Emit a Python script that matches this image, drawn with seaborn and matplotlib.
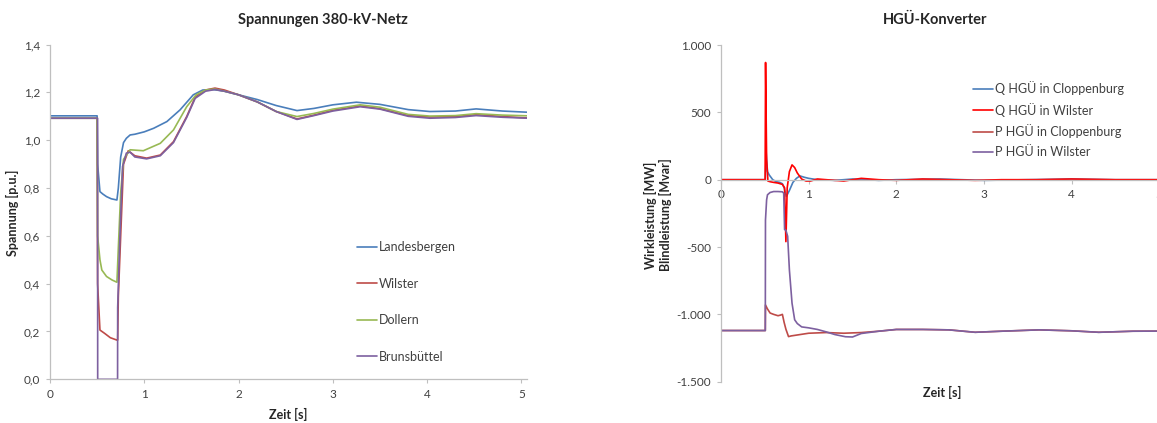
import numpy as np
import pandas as pd
import matplotlib
matplotlib.use("Agg")
import matplotlib.pyplot as plt
from matplotlib.ticker import FuncFormatter
import seaborn as sns

# --- Spannungen 380-kV-Netz (p.u.) ---
t_landesbergen = [0, 0.50, 0.505, 0.53, 0.56, 0.60, 0.65, 0.71, 0.725, 0.75, 0.78, 0.81, 0.85, 0.90, 1.0, 1.1,
                  1.24, 1.38, 1.52, 1.62, 1.73, 1.85, 2.0, 2.2, 2.4, 2.62, 2.8, 3.0, 3.25, 3.5, 3.8, 4.03,
                  4.3, 4.52, 4.8, 5.07]
v_landesbergen = [1.102, 1.102, 0.90, 0.785, 0.775, 0.764, 0.755, 0.75, 0.80, 0.93, 0.99, 1.008, 1.022, 1.025,
                  1.035, 1.05, 1.078, 1.127, 1.19, 1.21, 1.212, 1.205, 1.19, 1.17, 1.145, 1.124, 1.133,
                  1.148, 1.159, 1.15, 1.128, 1.12, 1.122, 1.131, 1.122, 1.117]

t_wilster = [0, 0.50, 0.505, 0.53, 0.58, 0.64, 0.71, 0.718, 0.725, 0.75, 0.78, 0.83, 0.90, 1.025, 1.17,
             1.31, 1.45, 1.54, 1.65, 1.75, 1.85, 2.0, 2.2, 2.4, 2.62, 2.8, 3.0, 3.29, 3.5, 3.8, 4.03,
             4.3, 4.52, 4.8, 5.07]
v_wilster = [1.092, 1.092, 0.40, 0.206, 0.192, 0.174, 0.164, 0.164, 0.346, 0.60, 0.90, 0.956, 0.935, 0.925,
             0.938, 0.994, 1.099, 1.18, 1.21, 1.218, 1.21, 1.19, 1.16, 1.12, 1.089, 1.105, 1.125, 1.143,
             1.132, 1.103, 1.097, 1.099, 1.107, 1.099, 1.093]

t_dollern = [0, 0.50, 0.505, 0.53, 0.55, 0.60, 0.66, 0.71, 0.725, 0.75, 0.78, 0.85, 0.99, 1.17, 1.31,
             1.45, 1.55, 1.65, 1.75, 1.85, 2.0, 2.2, 2.4, 2.62, 2.8, 3.0, 3.29, 3.5, 3.8, 4.03, 4.3,
             4.52, 4.8, 5.07]
v_dollern = [1.092, 1.092, 0.60, 0.50, 0.457, 0.43, 0.415, 0.406, 0.55, 0.78, 0.92, 0.96, 0.956, 0.987, 1.043,
             1.14, 1.19, 1.21, 1.214, 1.205, 1.19, 1.16, 1.12, 1.099, 1.112, 1.13, 1.148, 1.138, 1.108,
             1.101, 1.103, 1.111, 1.105, 1.102]

t_brunsbuettel = [0, 0.505, 0.506, 0.717, 0.718, 0.74, 0.77, 0.81, 0.85, 0.90, 1.025, 1.17, 1.31, 1.45,
                  1.54, 1.65, 1.75, 1.85, 2.0, 2.2, 2.4, 2.62, 2.8, 3.0, 3.29, 3.5, 3.8, 4.03, 4.3, 4.52,
                  4.8, 5.07]
v_brunsbuettel = [1.092, 1.092, 0.0, 0.0, 0.30, 0.58, 0.89, 0.946, 0.95, 0.93, 0.922, 0.935, 0.99, 1.095,
                  1.175, 1.205, 1.212, 1.205, 1.19, 1.16, 1.12, 1.087, 1.103, 1.122, 1.14, 1.13, 1.1,
                  1.092, 1.095, 1.103, 1.096, 1.092]

# --- HGÜ-Konverter (MW / Mvar) ---
t_q_clp = [0, 0.505, 0.515, 0.53, 0.55, 0.59, 0.63, 0.67, 0.70, 0.72, 0.745, 0.78, 0.82, 0.86, 0.90,
           0.95, 1.0, 1.1, 1.3, 1.5, 1.8, 2.0, 2.5, 3.0, 3.5, 4.0, 4.5, 5.1]
v_q_clp = [0, 0, 200, 60, 35, 0, -15, -20, -30, -60, -125, -80, -20, 10, 28, 18, 10, 0, -5, 5, -5, 0,
           5, -5, 0, 5, 0, 0]

t_q_wil = [0, 0.503, 0.508, 0.52, 0.535, 0.56, 0.60, 0.65, 0.70, 0.725, 0.74, 0.755, 0.78, 0.81, 0.84,
           0.87, 0.92, 0.97, 1.02, 1.1, 1.2, 1.4, 1.6, 1.8, 2.0, 2.3, 2.6, 2.9, 3.2, 3.6, 4.0, 4.5, 5.1]
v_q_wil = [0, 0, 870, 150, -10, -15, -20, -25, -35, -60, -460, -60, 60, 110, 90, 50, 5, -10, -10, 5, 0,
           -10, 10, 0, -5, 5, 0, -5, 0, 0, 5, 0, 0]

t_p_clp = [0, 0.505, 0.507, 0.53, 0.56, 0.60, 0.65, 0.68, 0.70, 0.72, 0.74, 0.77, 0.80, 0.90, 1.0, 1.2,
           1.4, 1.6, 1.8, 2.0, 2.3, 2.6, 2.9, 3.2, 3.63, 4.0, 4.31, 4.7, 5.1]
v_p_clp = [-1120, -1120, -930, -960, -990, -1000, -1010, -1005, -1000, -1060, -1110, -1165, -1160, -1150,
           -1140, -1135, -1140, -1135, -1125, -1112, -1112, -1115, -1133, -1125, -1115, -1122, -1133,
           -1125, -1124]

t_p_wil = [0, 0.505, 0.507, 0.52, 0.53, 0.56, 0.60, 0.65, 0.70, 0.715, 0.725, 0.74, 0.76, 0.78, 0.81,
           0.84, 0.87, 0.92, 1.0, 1.1, 1.2, 1.3, 1.42, 1.5, 1.6, 1.8, 2.0, 2.3, 2.6, 2.9, 3.2, 3.63,
           4.0, 4.31, 4.7, 5.1]
v_p_wil = [-1120, -1120, -300, -150, -112, -95, -88, -88, -90, -100, -370, -375, -420, -670, -917, -1040,
           -1068, -1093, -1100, -1112, -1130, -1150, -1166, -1168, -1142, -1125, -1112, -1112, -1115,
           -1133, -1125, -1115, -1122, -1133, -1125, -1124]

names_left = ["Landesbergen", "Wilster", "Dollern", "Brunsbüttel"]
names_right = ["Q HGÜ in Cloppenburg", "Q HGÜ in Wilster", "P HGÜ in Cloppenburg", "P HGÜ in Wilster"]

colors_left = {"Landesbergen": "#4A7EBB", "Wilster": "#BE4B48",
               "Dollern": "#98B954", "Brunsbüttel": "#7D60A0"}
colors_right = {"Q HGÜ in Cloppenburg": "#4A7EBB", "Q HGÜ in Wilster": "#FF0000",
                "P HGÜ in Cloppenburg": "#BE4B48", "P HGÜ in Wilster": "#7D60A0"}


def long_frame(names, ts, vs):
    parts = []
    for n, t, v in zip(names, ts, vs):
        parts.append(pd.DataFrame({"t": t, "v": v, "serie": n}))
    return pd.concat(parts, ignore_index=True)


df_left = long_frame(names_left,
                     [t_landesbergen, t_wilster, t_dollern, t_brunsbuettel],
                     [v_landesbergen, v_wilster, v_dollern, v_brunsbuettel])
df_right = long_frame(names_right,
                      [t_q_clp, t_q_wil, t_p_clp, t_p_wil],
                      [v_q_clp, v_q_wil, v_p_clp, v_p_wil])

sns.set_style("white")
plt.rcParams["font.family"] = ["Lato", "DejaVu Sans"]

fig = plt.figure(figsize=(11.57, 4.23), dpi=100)
ax1 = fig.add_axes([0.0432, 0.1033, 0.4123, 0.7913])
ax2 = fig.add_axes([0.6232, 0.0976, 0.3863, 0.7960])

grey = "#BFBFBF"
lw = 1.2

sns.lineplot(data=df_left, x="t", y="v", hue="serie", hue_order=names_left,
             palette=colors_left, estimator=None, sort=False, lw=lw, ax=ax1)
sns.lineplot(data=df_right, x="t", y="v", hue="serie", hue_order=names_right,
             palette=colors_right, estimator=None, sort=False, lw=lw, ax=ax2)

# left axes
ax1.set_xlim(0, 5.06)
ax1.set_ylim(0, 1.4)
ax1.set_xticks(range(6))
ax1.set_yticks(np.arange(0, 1.41, 0.2))
ax1.yaxis.set_major_formatter(FuncFormatter(lambda v, p: f"{v:.1f}".replace(".", ",")))
ax1.set_xlabel("")
ax1.set_ylabel("")

# right axes
ax2.set_xlim(0, 5.1)
ax2.set_ylim(-1500, 1000)
ax2.set_xticks(range(6))
ax2.set_yticks(range(-1500, 1001, 500))
ax2.yaxis.set_major_formatter(FuncFormatter(lambda v, p: f"{int(v):,}".replace(",", ".")))
ax2.spines["bottom"].set_position(("data", 0))
ax2.set_xlabel("")
ax2.set_ylabel("")

for ax in (ax1, ax2):
    ax.spines["top"].set_visible(False)
    ax.spines["right"].set_visible(False)
    for s in ("left", "bottom"):
        ax.spines[s].set_color(grey)
        ax.spines[s].set_linewidth(0.9)
    ax.tick_params(axis="both", which="major", length=3, width=0.8, color=grey,
                   labelsize=8.5, labelcolor="#404040", pad=4)
    ax.tick_params(axis="both", direction="out", bottom=True, left=True)

# legends
ax1.legend(loc="center left", bbox_to_anchor=(0.304, 0.286), bbox_transform=fig.transFigure,
           frameon=False, fontsize=9, handlelength=1.6, handletextpad=0.2, labelspacing=1.95,
           borderaxespad=0)
ax2.legend(loc="center left", bbox_to_anchor=(0.8366, 0.7175), bbox_transform=fig.transFigure,
           frameon=False, fontsize=9, handlelength=1.6, handletextpad=0.2, labelspacing=0.62,
           borderaxespad=0)
for leg in (ax1.get_legend(), ax2.get_legend()):
    for txt in leg.get_texts():
        txt.set_color("#404040")

# titles and axis labels
fig.text(0.279, 0.953, "Spannungen 380-kV-Netz", ha="center", va="center",
         fontsize=10.5, fontweight="bold")
fig.text(0.808, 0.953, "HGÜ-Konverter", ha="center", va="center",
         fontsize=10.5, fontweight="bold")
fig.text(0.011, 0.496, "Spannung [p.u.]", rotation=90, ha="center", va="center",
         fontsize=9, fontweight="bold")
fig.text(0.569, 0.492, "Wirkleistung [MW]\nBlindleistung [Mvar]", rotation=90, ha="center",
         va="center", multialignment="center", fontsize=9, fontweight="bold")
fig.text(0.249, 0.019, "Zeit [s]", ha="center", va="center", fontsize=9, fontweight="bold")
fig.text(0.814, 0.071, "Zeit [s]", ha="center", va="center", fontsize=9, fontweight="bold")

fig.savefig("out.png", dpi=100)
